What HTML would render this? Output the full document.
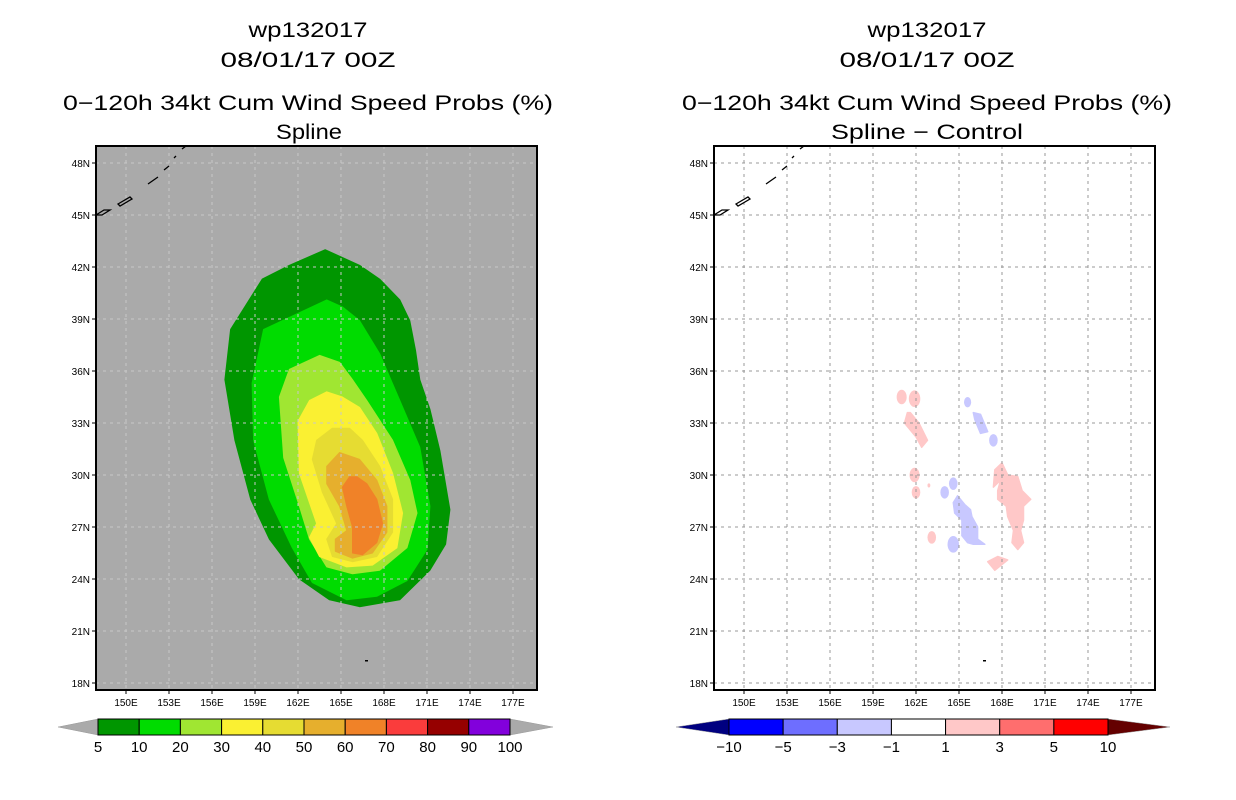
<!DOCTYPE html>
<html><head><meta charset="utf-8"><style>
body{margin:0;background:#fff;width:1236px;height:800px;overflow:hidden}
svg{display:block}
text{font-family:"Liberation Sans",sans-serif}
</style></head><body>
<svg id="s" width="1236" height="800" xmlns="http://www.w3.org/2000/svg">
<g font-size="21" text-anchor="middle" fill="#000">
<text x="308" y="37" textLength="119" lengthAdjust="spacingAndGlyphs">wp132017</text>
<text x="308" y="67" textLength="175" lengthAdjust="spacingAndGlyphs">08/01/17 00Z</text>
<text x="308" y="110" textLength="490" lengthAdjust="spacingAndGlyphs">0−120h 34kt Cum Wind Speed Probs (%)</text>
<text x="309" y="139" textLength="66" lengthAdjust="spacingAndGlyphs">Spline</text>
</g>
<g font-size="21" text-anchor="middle" fill="#000">
<text x="927" y="37" textLength="119" lengthAdjust="spacingAndGlyphs">wp132017</text>
<text x="927" y="67" textLength="175" lengthAdjust="spacingAndGlyphs">08/01/17 00Z</text>
<text x="927" y="110" textLength="490" lengthAdjust="spacingAndGlyphs">0−120h 34kt Cum Wind Speed Probs (%)</text>
<text x="927" y="139" textLength="192" lengthAdjust="spacingAndGlyphs">Spline − Control</text>
</g>
<g id="L"></g>
<g id="R"></g>
<g id="CB1"></g>
<g id="CB2"></g>
</svg>
<script>
const NS="http://www.w3.org/2000/svg";
const latTicks=[18,21,24,27,30,33,36,39,42,45,48];
const lonTicks=[150,153,156,159,162,165,168,171,174,177];
const probLevels=[5,10,20,30,40,50,60];
const probColors=["#009600","#00dc00","#a0e632","#faf032","#e6dc32","#e6af2d","#f08228"];
const probLon=[
[163.9,166.3,167.7,169.1,169.8,170.2,170.5,171.2,171.9,172.6,172.3,171.2,169.1,166.3,164.2,162.1,160.0,158.7,157.6,156.9,157.3,159.5,161.4],
[164.0,165.1,166.3,167.7,169.1,170.5,171.2,171.0,169.6,167.5,165.4,163.0,161.6,160.0,158.9,158.8,159.6],
[163.5,164.9,165.8,166.8,168.6,169.8,170.3,169.6,167.7,165.8,164.0,162.8,162.1,161.0,160.7,161.4],
[164.0,165.1,166.3,167.5,168.6,169.3,168.9,167.2,165.4,163.5,162.8,163.3,162.1,162.0,162.8],
[164.4,165.6,166.5,167.7,168.6,168.6,167.5,165.8,164.4,164.0,164.7,163.7,163.0,163.3],
[164.9,166.3,167.5,168.2,168.2,167.2,165.8,164.6,164.6,165.4,164.9,164.0,164.0],
[165.6,166.1,166.8,167.5,167.9,167.5,166.5,165.8,165.8,165.4,165.1]];
const probLat=[
[43.0,42.1,41.3,40.1,38.9,37.2,35.5,33.8,31.4,28.0,26.0,24.5,22.8,22.4,22.8,24.0,26.3,28.6,32.0,35.5,38.4,41.3,42.1],
[40.1,39.7,38.9,37.0,34.3,31.6,28.2,25.7,23.9,23.0,22.8,23.8,25.8,28.6,32.0,35.3,38.4],
[36.9,36.5,35.5,34.3,32.0,29.7,27.8,25.8,24.5,24.3,24.7,26.3,28.2,31.0,34.5,36.1],
[34.8,34.5,33.9,32.4,30.1,27.8,25.8,24.8,24.7,25.3,26.4,27.2,30.1,33.1,34.3],
[32.7,32.7,32.0,30.5,28.6,26.7,25.3,25.0,25.3,26.3,27.2,29.0,30.9,32.0],
[31.3,30.9,29.7,28.2,26.7,25.5,25.2,25.6,26.3,26.8,28.2,29.5,30.5],
[29.9,29.9,29.5,28.6,27.2,26.1,25.4,25.5,27.0,28.2,29.3]];
const diffValue=[2,2,-2,-2,2];
const diffLon=[
[161.4,161.6,162.2,162.8,162.4,162.0,161.2],
[168.0,168.4,169.1,169.4,170.0,169.5,169.5,169.3,169.5,169.1,168.7,168.8,168.4,168.3,167.7,167.7,167.9,167.4,167.5],
[166.0,166.5,167.0,166.5,166.1],
[164.9,165.4,165.8,165.9,166.3,166.3,166.8,166.0,165.6,165.2,165.2,164.7,164.6],
[167.0,167.7,168.4,167.5]];
const diffLat=[
[33.6,33.6,33.0,32.0,31.6,32.2,33.0],
[30.7,30.0,29.9,29.1,28.6,28.2,27.4,26.8,26.1,25.7,26.1,26.8,27.6,28.2,28.6,29.1,29.7,29.3,30.3],
[33.6,33.5,32.5,32.4,33.2],
[28.8,28.3,28.0,27.6,27.0,26.3,26.0,26.0,26.1,26.5,27.4,27.8,28.4],
[25.0,25.3,25.1,24.5]];
const spotValue=[2,2,2,2,2,-2,-2,-2,-2,-2,2];
const spotLon=[161.0,161.9,161.9,162.0,163.1,165.6,167.4,164.6,164.0,164.6,162.9];
const spotLat=[34.5,34.4,30.0,29.0,26.4,34.2,32.0,29.5,29.0,26.0,29.4];
const spotR=[0.35,0.4,0.35,0.3,0.3,0.25,0.3,0.3,0.3,0.4,0.1];

function el(t,a,p){const e=document.createElementNS(NS,t);for(const k in a)e.setAttribute(k,a[k]);p.appendChild(e);return e;}
function makeMap(g,x0,bg,isDiff){
  const X0=x0,Y0=146,W=441,H=544;
  const xs=lon=>X0+30+(lon-150)*14.333;
  const ys=lat=>683-(lat-18)*17.333;
  const cp=el("clipPath",{id:"c"+x0},g);el("rect",{x:X0,y:Y0,width:W,height:H},cp);
  const bgR=el("rect",{x:X0,y:Y0,width:W,height:H,fill:bg},g);
  
  
  const inner=el("g",{"clip-path":"url(#c"+x0+")"},g);
  if(!isDiff){
    probLon.forEach((ln,i)=>{
      const pts=ln.map((v,j)=>xs(v).toFixed(1)+","+ys(probLat[i][j]).toFixed(1)).join(" ");
      const p=el("polygon",{points:pts,fill:probColors[i],stroke:probColors[i],"stroke-width":1,"stroke-linejoin":"round"},inner);
      
      
    });
  } else {
    const col=v=>v>0?"#ffc8c8":"#c8c8ff";
    diffLon.forEach((ln,i)=>{
      const pts=ln.map((v,j)=>xs(v).toFixed(1)+","+ys(diffLat[i][j]).toFixed(1)).join(" ");
      const p=el("polygon",{points:pts,fill:col(diffValue[i]),stroke:col(diffValue[i]),"stroke-width":1.5,"stroke-linejoin":"round"},inner);
      
      
    });
    spotLon.forEach((v,i)=>{
      const c=el("ellipse",{cx:xs(v),cy:ys(spotLat[i]),rx:spotR[i]*14.33,ry:spotR[i]*17.33*1.2,fill:col(spotValue[i])},inner);
      
      
    });
  }
  const gc=isDiff?"#999":"#c8c8c8";
  latTicks.forEach(l=>{const y=ys(l);
    const gl=el("line",{x1:X0,x2:X0+W,y1:y,y2:y,stroke:gc,"stroke-width":1,"stroke-dasharray":"3,4"},inner);
    
    el("line",{x1:X0-4,x2:X0,y1:y,y2:y,stroke:"#000"},g);
    const t=el("text",{x:X0-6,y:y+4,"font-size":10,"text-anchor":"end"},g);t.textContent=l+"N";
    
  });
  lonTicks.forEach(l=>{const x=xs(l);
    const gl=el("line",{x1:x,x2:x,y1:Y0,y2:Y0+H,stroke:gc,"stroke-width":1,"stroke-dasharray":"3,4"},inner);
    
    el("line",{x1:x,x2:x,y1:Y0+H,y2:Y0+H+4,stroke:"#000"},g);
    const t=el("text",{x:x,y:Y0+H+16,"font-size":10,"text-anchor":"middle"},g);t.textContent=l+"E";
    
  });
  const coast=el("path",{d:`M${X0},${Y0+69} l8,-5 l6,0 l-8,5 z M${X0+22},${Y0+58} l12,-7 l2,2 l-12,7 z M${X0+52},${Y0+38} l10,-7 M${X0+68},${Y0+24} l5,-4 M${X0+78},${Y0+12} l2,-2 M${X0+86},${Y0+3} l4,-3`,fill:"none",stroke:"#000","stroke-width":1.3},inner);
  
  el("rect",{x:X0+269,y:Y0+514,width:3,height:1.5,fill:"#000"},inner);
  const fr=el("rect",{x:X0,y:Y0,width:W,height:H,fill:"none",stroke:"#000","stroke-width":2},g);
  
}
makeMap(document.getElementById("L"),96,"#aaaaaa",false);
makeMap(document.getElementById("R"),714,"#ffffff",true);

const cb1Labels=["5","10","20","30","40","50","60","70","80","90","100"];
const cb1Colors=["#009600","#00dc00","#a0e632","#faf032","#e6dc32","#e6af2d","#f08228","#fa3c3c","#960000","#8200dc"];
const cb2Labels=["−10","−5","−3","−1","1","3","5","10"];
const cb2Colors=["#0000ff","#6e6eff","#c8c8ff","#ffffff","#ffc8c8","#ff6e6e","#ff0000"];
function colorbar(g,x0,x1,tipL,tipR,cols,labs,lc,rc){
  const y0=719,y1=735,n=cols.length,w=(x1-x0)/n;
  el("polygon",{points:`${tipL},727 ${x0},${y0} ${x0},${y1}`,fill:lc,stroke:"#999","stroke-width":0.5},g);
  el("polygon",{points:`${tipR},727 ${x1},${y0} ${x1},${y1}`,fill:rc,stroke:"#999","stroke-width":0.5},g);
  cols.forEach((c,i)=>{const r=el("rect",{x:x0+i*w,y:y0,width:w,height:y1-y0,fill:c,stroke:"#000","stroke-width":1},g);
    });
  const off=labs.length===n+1?0:1;
  labs.forEach((l,i)=>{const t=el("text",{x:x0+(i+off)*w,y:752,"font-size":15,"text-anchor":"middle"},g);t.textContent=l;
    });
}
colorbar(document.getElementById("CB1"),98,510,58,553,cb1Colors,cb1Labels,"#aaaaaa","#aaaaaa");
colorbar(document.getElementById("CB2"),729,1108,676,1170,cb2Colors,cb2Labels,"#000080","#640000");
</script>
</body></html>
